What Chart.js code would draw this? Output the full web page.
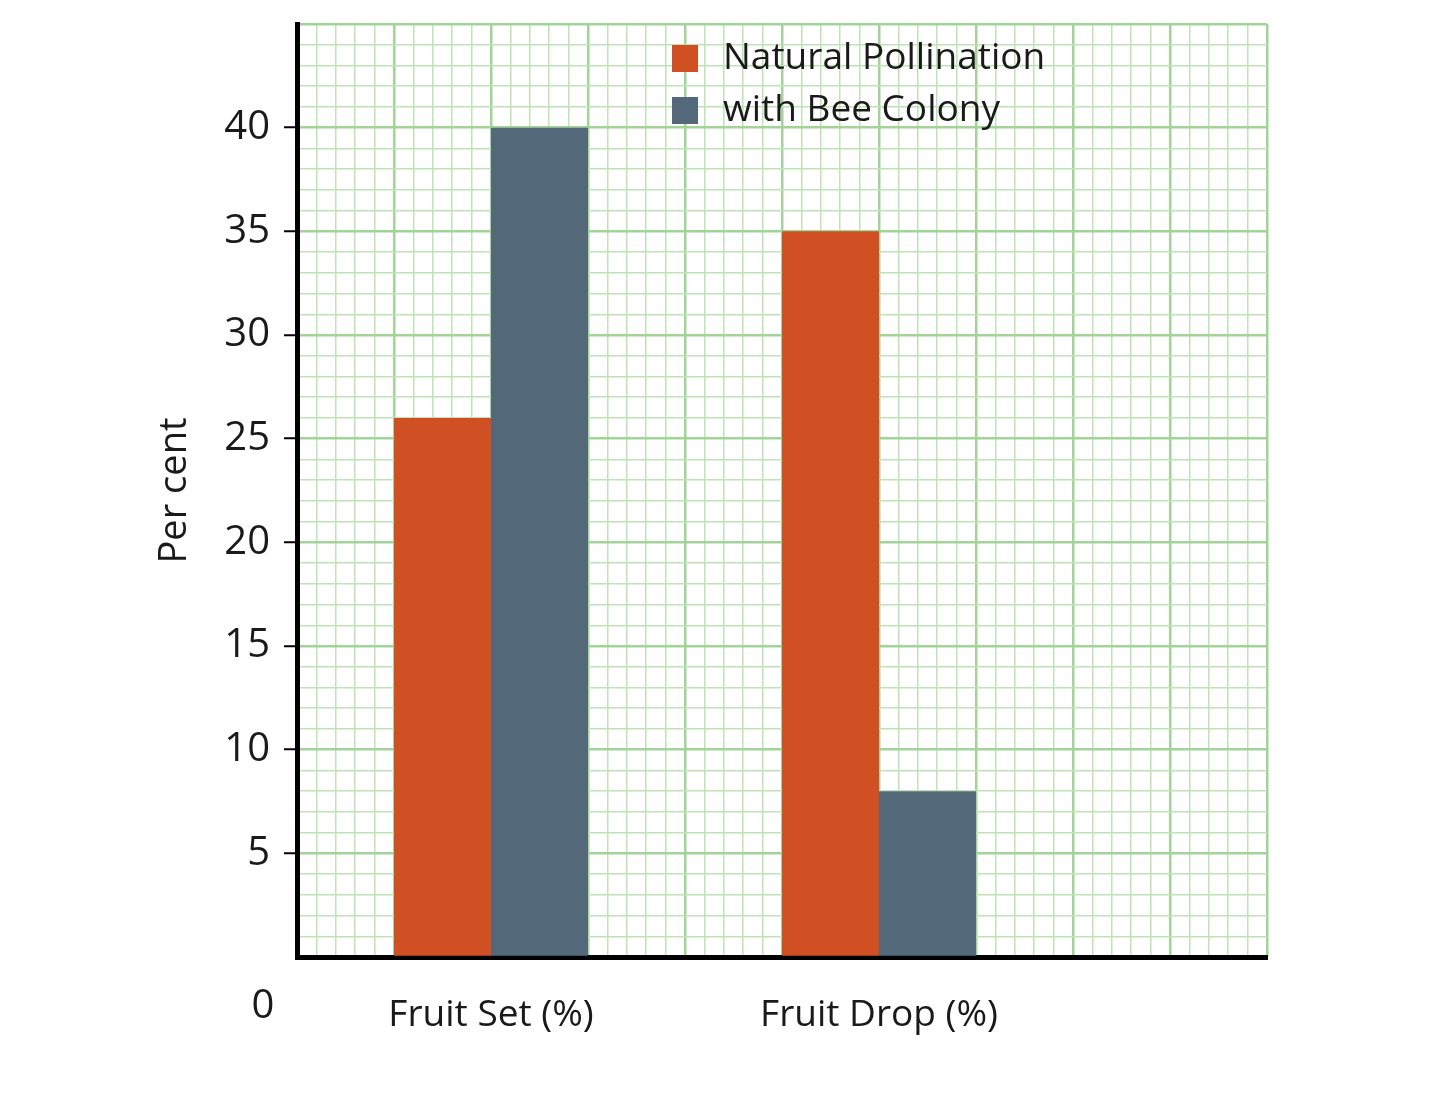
<!DOCTYPE html>
<html>
<head>
<meta charset="utf-8">
<script src="https://cdn.jsdelivr.net/npm/chart.js@4.4.1/dist/chart.umd.min.js"></script>
<style>
  html, body { margin: 0; padding: 0; background: #ffffff; }
  #wrap { width: 1438px; height: 1094px; position: relative; }
</style>
</head>
<body>
<div id="wrap"><canvas id="chart"></canvas></div>
<script>
const categories = ["Fruit Set (%)", "Fruit Drop (%)"]
const seriesNames = ["Natural Pollination", "with Bee Colony"]
const naturalPollination = [26, 35]
const withBeeColony = [40, 8]
const yTicks = [0, 5, 10, 15, 20, 25, 30, 35, 40, 45]

const colors = {
  orange: "#d04f23",
  slate: "#536879",
  gridMajor: "#a3d497",
  gridMinor: "#bfe3b5",
  ink: "#1a1a1a",
}

const FONT = "'Open Sans', 'Noto Sans', sans-serif"
const CLEAR = "rgba(0,0,0,0)"

// category i sits on the linear x scale at 2 + 4 * i (10 grid columns)
const catPos = (i) => 2 + 4 * i

const toPoints = (vals) => vals.map((v, i) => ({ x: catPos(i), y: v }))

const tickVal = (c) => (c && c.tick ? c.tick.value : null)

// legend drawn inside the plot, top right
const innerLegend = {
  id: "innerLegend",
  afterDraw(chart) {
    const { ctx, chartArea } = chart
    ctx.save()
    ctx.font = "37px " + FONT
    ctx.textBaseline = "middle"
    chart.data.datasets.forEach((ds, i) => {
      const x = chartArea.left + 375
      const y = chartArea.top + 34 + i * 52
      ctx.fillStyle = ds.backgroundColor
      ctx.fillRect(x, y - 13, 26, 27)
      ctx.fillStyle = colors.ink
      ctx.fillText(ds.label, x + 51, y)
    })
    ctx.restore()
  },
}

// the "0" sits below the x axis line in the original
const zeroLabel = {
  id: "zeroLabel",
  afterDraw(chart) {
    const { ctx } = chart
    const y = chart.scales.y
    ctx.save()
    ctx.font = "40px " + FONT
    ctx.fillStyle = colors.ink
    ctx.textAlign = "center"
    ctx.textBaseline = "middle"
    ctx.fillText(String(yTicks[0]), y.right - 34, y.getPixelForValue(0) + 50)
    ctx.restore()
  },
}

const ctx = document.getElementById("chart").getContext("2d")

const gridAxisX = (max, grid) => ({
  type: "linear",
  position: "bottom",
  min: 0,
  max,
  offset: false,
  afterFit: (axis) => {
    axis.height = 0
  },
  ticks: { display: false, stepSize: 1 },
  grid: Object.assign({ offset: false, drawTicks: false }, grid),
  border: { display: false },
})

new Chart(ctx, {
  type: "bar",
  data: {
    datasets: [
      {
        label: seriesNames[0],
        data: toPoints(naturalPollination),
        backgroundColor: colors.orange,
        xAxisID: "x",
      },
      {
        label: seriesNames[1],
        data: toPoints(withBeeColony),
        backgroundColor: colors.slate,
        xAxisID: "x",
      },
    ],
  },
  plugins: [innerLegend, zeroLabel],
  options: {
    responsive: true,
    maintainAspectRatio: false,
    animation: false,
    categoryPercentage: 0.5,
    barPercentage: 1.0,
    layout: { padding: { left: 0, top: 24, right: 171, bottom: 0 } },
    plugins: {
      legend: { display: false },
      tooltip: { enabled: false },
    },
    scales: {
      x: {
        type: "linear",
        position: "bottom",
        min: 0,
        max: 10,
        offset: false,
        afterBuildTicks: (axis) => {
          axis.ticks = categories.map((c, i) => ({ value: catPos(i) }))
        },
        afterFit: (axis) => {
          axis.height = 137
          axis.paddingLeft = 0
          axis.paddingRight = 0
        },
        grid: { display: false, offset: false },
        border: { display: true, color: "#000", width: 5 },
        ticks: {
          autoSkip: false,
          maxRotation: 0,
          padding: 28,
          color: colors.ink,
          font: { family: FONT, size: 37 },
          callback: (value, index) => categories[index],
        },
      },
      // major (every 5 small squares) and minor vertical graph-paper lines
      xMajor: gridAxisX(10, { color: colors.gridMajor, lineWidth: 2.5 }),
      xMinor: gridAxisX(50, {
        color: (c) => (tickVal(c) % 5 === 0 ? CLEAR : colors.gridMinor),
        lineWidth: 1.5,
      }),
      y: {
        type: "linear",
        position: "left",
        min: 0,
        max: 45,
        afterBuildTicks: (axis) => {
          axis.ticks = yTicks.map((v) => ({ value: v }))
        },
        afterFit: (axis) => {
          axis.width = 297
          axis.paddingTop = 0
          axis.paddingBottom = 0
        },
        grid: {
          color: colors.gridMajor,
          lineWidth: 2.5,
          tickLength: 13,
          tickWidth: 2,
          tickColor: (c) => {
            const v = tickVal(c)
            return v > 0 && v < 45 ? "#000" : CLEAR
          },
        },
        border: { display: true, color: "#000", width: 5 },
        ticks: {
          autoSkip: false,
          padding: 14,
          color: colors.ink,
          font: { family: FONT, size: 40 },
          callback: (v) => (v > 0 && v < 45 ? String(v) : ""),
        },
        title: {
          display: true,
          text: "Per cent",
          color: colors.ink,
          font: { family: FONT, size: 38 },
          padding: { top: 152, bottom: 0 },
        },
      },
      yMinor: {
        type: "linear",
        position: "left",
        min: 0,
        max: 45,
        afterFit: (axis) => {
          axis.width = 0
        },
        ticks: { display: false, stepSize: 1 },
        grid: {
          color: (c) => (tickVal(c) % 5 === 0 ? CLEAR : colors.gridMinor),
          lineWidth: 1.5,
          drawTicks: false,
        },
        border: { display: false },
      },
    },
  },
})
</script>
</body>
</html>
